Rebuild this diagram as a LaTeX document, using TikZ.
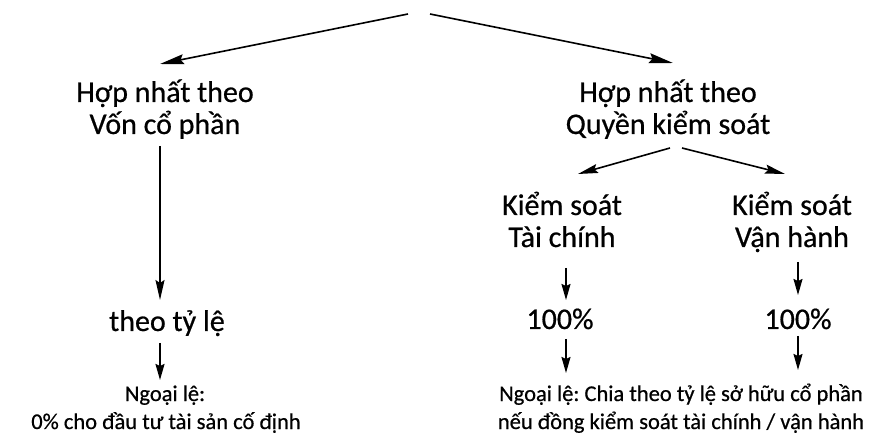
\documentclass[tikz,border=0pt]{standalone}
\usepackage{fontspec}
\setmainfont{Carlito}[FakeBold=0.6]
\usetikzlibrary{arrows.meta}
\frenchspacing
\begin{document}
\begin{tikzpicture}[x=1pt,y=-1pt,
  lbl/.style={anchor=base,font=\fontsize{30}{32}\selectfont,inner sep=0pt},
  small/.style={anchor=base,font=\fontsize{22.5}{28}\selectfont,inner sep=0pt},
  arr/.style={line width=1.6pt,-{Stealth[length=16pt,width=9pt,inset=2pt]}},
  bigarr/.style={line width=1.6pt,-{Stealth[length=24pt,width=10pt,inset=3pt]}},
  midarr/.style={line width=1.6pt,-{Stealth[length=20pt,width=9pt,inset=3pt]}}]
\useasboundingbox (0,0) rectangle (894,435);
\coordinate (t1) at (408,14);
\coordinate (t2) at (430,14);
\node[lbl] (hl1) at (165,102) {Hợp nhất theo};
\node[lbl] (hl2) at (165,134) {Vốn cổ phần};
\node[lbl] (hr1) at (668,102) {Hợp nhất theo};
\node[lbl] (hr2) at (668,134) {Quyền kiểm soát};
\node[lbl] (tl) at (167,331) {theo tỷ lệ};
\node[small] (el1) at (165,401) {Ngoại lệ:};
\node[small] (el2) at (166,429) {0\% cho đầu tư tài sản cố định};
\node[lbl] (kt1) at (562,215) {Kiểm soát};
\node[lbl] (kt2) at (562,247) {Tài chính};
\node[lbl] (kv1) at (792,215) {Kiểm soát};
\node[lbl] (kv2) at (792,247) {Vận hành};
\node[lbl] (p1) at (560,329) {100\%};
\node[lbl] (p2) at (798,329) {100\%};
\node[small] (er1) at (681,401) {Ngoại lệ: Chia theo tỷ lệ sở hữu cổ phần};
\node[small] (er2) at (681,429) {nếu đồng kiểm soát tài chính / vận hành};
\draw[bigarr] (t1) -- (160,64);
\draw[bigarr] (t2) -- (673,63);
\draw[midarr] (160,146) -- (160,300);
\draw[arr] (160,343) -- (160,380);
\draw[midarr] (670,148) -- (578,174);
\draw[midarr] (682,148) -- (785,174);
\draw[arr] (566,268) -- (566,300);
\draw[arr] (798,262) -- (798,295);
\draw[arr] (566,339) -- (566,373);
\draw[arr] (798,336) -- (798,370);
\end{tikzpicture}
\end{document}
